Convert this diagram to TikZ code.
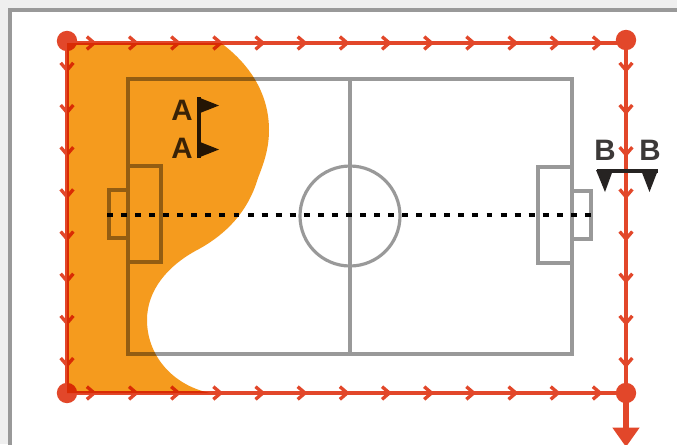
\documentclass[tikz,border=0pt]{standalone}
\usepackage{xcolor}
\usepackage{fontspec}
\setmainfont{Liberation Sans}
\usetikzlibrary{arrows.meta, decorations.markings}
\definecolor{redline}{HTML}{E2472A}
\definecolor{pitchgray}{HTML}{999999}
\definecolor{zone}{HTML}{F59B1E}
\definecolor{panel}{HTML}{EFEFEF}
\definecolor{marker}{HTML}{262322}
\tikzset{
  pitch/.style={draw=pitchgray, line width=1.8pt},
  corner/.style={circle, fill=redline, minimum size=11.6pt, inner sep=0pt},
  runline/.style={redline, line width=1.9pt, postaction={decorate},
    decoration={markings, mark=between positions 15.5pt and 1 step 24pt with {
      \draw[line width=1.9pt] (-4.2pt,3.6pt) -- (0pt,0pt) -- (-4.2pt,-3.6pt);}}},
  playerlabel/.style={font=\fontsize{16.8}{18}\selectfont\bfseries, text=marker!90!white, inner sep=0pt},
}
\begin{document}
\begin{tikzpicture}[x=0.02cm, y=-0.02cm, >=Stealth]
  \useasboundingbox (0,0) rectangle (677,444);
  % Hintergrund
  \fill[panel] (0,0) rectangle (677,444);
  \draw[fill=white, draw=pitchgray, line width=1.8pt] (10,10) rectangle (720,490);

  % Spielfeld
  \draw[pitch] (128,79) rectangle (572,354);
  \draw[pitch] (350,79) -- (350,354);
  \draw[pitch] (350,216) circle (50);
  \draw[pitch] (128,166) rectangle (161,262);
  \draw[pitch] (109,190) rectangle (128,238);
  \draw[pitch] (538,167) rectangle (572,263);
  \draw[pitch] (572,191) rectangle (591,239);
  \coordinate (midleft) at (107,215);
  \coordinate (midright) at (592,215);
  \draw[black, line width=2.2pt, dash pattern=on 3.4pt off 4.6pt] (midleft) -- (midright);

  % Eckpunkte
  \node[corner] (topleft) at (67,41) {};
  \node[corner] (topright) at (626,40) {};
  \node[corner] (botleft) at (67,393) {};
  \node[corner] (botright) at (626,393) {};

  % Laufwege
  \coordinate (runa) at (67,43);
  \coordinate (runb) at (626,43);
  \draw[runline] (runa) -- (runb);
  \draw[runline] (runa) -- (botleft.center);
  \draw[runline] (runb) -- (botright.center);
  \draw[runline] (botleft.center) -- (botright.center);
  \coordinate (exit) at (626,447);
  \draw[redline, line width=3.8pt, -{Triangle[width=14.7pt, length=11pt]}] (botright.center) -- (exit);

  % Fahnen A
  \node[playerlabel] (labela) at (182,110) {A};
  \node[playerlabel] (labelb) at (182,148) {A};
  \coordinate (poletop) at (199,97);
  \coordinate (polebot) at (199,158);
  \draw[marker, line width=2.2pt] (poletop) -- (polebot);
  \fill[marker] (197.5,97) -- (219,105.5) -- (197.5,114) -- cycle;
  \fill[marker] (197.5,141) -- (219,149.5) -- (197.5,158) -- cycle;

  % Markierung B
  \node[playerlabel] (labelc) at (605,150) {B};
  \node[playerlabel] (labeld) at (650,150) {B};
  \coordinate (barleft) at (597,171);
  \coordinate (barright) at (658,171);
  \draw[marker, line width=2.2pt] (barleft) -- (barright);
  \fill[marker] (596,170) -- (613,170) -- (605,192) -- cycle;
  \fill[marker] (641,170) -- (658,170) -- (649.5,192) -- cycle;

  % Zone
  \begin{scope}[blend mode=multiply]
    \fill[zone] (67,43) -- (221,43)
      .. controls (252,66) and (269,96) .. (269,130)
      .. controls (269,150) and (263,165) .. (258,178)
      .. controls (248,212) and (226,234) .. (199,249)
      .. controls (168,265) and (147,290) .. (147,320)
      .. controls (147,355) and (172,385) .. (210,393)
      -- (67,393) -- cycle;
  \end{scope}
\end{tikzpicture}
\end{document}
